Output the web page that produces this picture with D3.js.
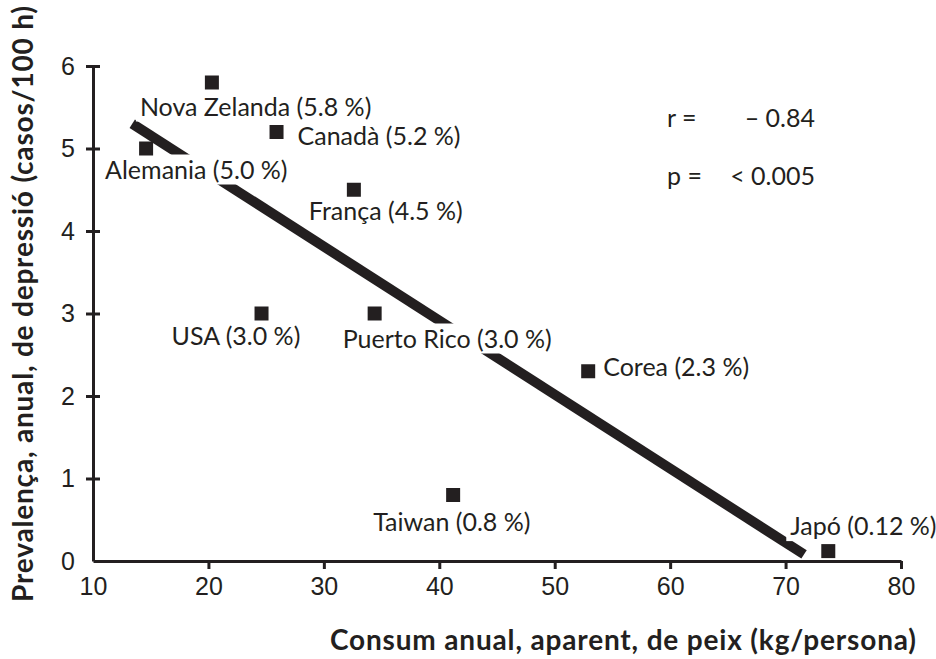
<!DOCTYPE html>
<html>
<head>
<meta charset="utf-8">
<script src="https://cdn.jsdelivr.net/npm/d3@7"></script>
<style>
  body { margin: 0; background: #fff; }
  svg { display: block; font-family: Lato, "Open Sans", sans-serif; }
</style>
</head>
<body>
<svg id="chart" width="936" height="659"></svg>
<script>
// fish consumption (kg/person/year) vs. annual depression prevalence
const countries = ['Nova Zelanda', 'Canadà', 'Alemania', 'França', 'USA', 'Puerto Rico', 'Corea', 'Taiwan', 'Japó'];
const fishKg = [20.3, 25.9, 14.6, 32.6, 24.6, 34.4, 52.9, 41.2, 73.7];
const prevalence = [5.8, 5.2, 5.0, 4.5, 3.0, 3.0, 2.3, 0.8, 0.12];
const pctLabels = ['5.8', '5.2', '5.0', '4.5', '3.0', '3.0', '2.3', '0.8', '0.12'];

// regression line end points
const fitX = [13.4, 71.6];
const fitY = [5.3, 0.08];

const xTicks = [10, 20, 30, 40, 50, 60, 70, 80];
const yTicks = [0, 1, 2, 3, 4, 5, 6];

const statNames = ['r =', 'p ='];
const statValues = ['\u2013 0.84', '< 0.005'];

// label offsets from each marker (px)
const labelOffset = [[-72, 33], [21, 13], [-41, 30], [-45, 30], [-90, 31], [-32, 34], [15, 5], [-80, 36], [-38, -16]];

const ink = '#231f20';
const svg = d3.select('#chart');

const x = d3.scaleLinear().domain([10, 80]).range([93, 901]);
const y = d3.scaleLinear().domain([0, 6]).range([561, 66]);

// x axis
const gx = svg.append('g')
  .attr('transform', `translate(0,${y(0)})`)
  .call(d3.axisBottom(x).tickValues(xTicks).tickSize(8).tickSizeOuter(0).tickPadding(8));
gx.select('.domain').attr('stroke', ink).attr('stroke-width', 3);
gx.selectAll('.tick line').attr('stroke', ink).attr('stroke-width', 3);
gx.selectAll('.tick text').attr('fill', ink).attr('font-size', 25).attr('dy', '0.71em');
gx.selectAll('.tick').filter(d => d === 10).select('line').remove();

// y axis
const gy = svg.append('g')
  .attr('transform', `translate(${x(10)},0)`)
  .call(d3.axisLeft(y).tickValues(yTicks).tickFormat(d3.format('d')).tickSize(6).tickSizeOuter(0));
gy.select('.domain').attr('stroke', ink).attr('stroke-width', 3);
gy.selectAll('.tick line').attr('stroke', ink).attr('stroke-width', 3).attr('x1', -7).attr('x2', 7);
gy.selectAll('.tick').filter(d => d === 0).select('line').remove();
gy.selectAll('.tick text').attr('fill', ink).attr('font-size', 25).attr('x', -18);

// regression line
svg.append('line')
  .attr('x1', x(fitX[0])).attr('y1', y(fitY[0]))
  .attr('x2', x(fitX[1])).attr('y2', y(fitY[1]))
  .attr('stroke', ink).attr('stroke-width', 10);

const pts = countries.map((c, i) => ({ c, x: fishKg[i], y: prevalence[i], p: pctLabels[i], off: labelOffset[i] }));

// labels, with a white backing that breaks the line where they cross it
const labels = svg.append('g').selectAll('g').data(pts).join('g')
  .attr('transform', d => `translate(${x(d.x) + d.off[0]},${y(d.y) + d.off[1]})`);
labels.append('text')
  .attr('font-size', 25)
  .attr('fill', ink)
  .text(d => `${d.c} (${d.p} %)`);
labels.each(function () {
  const g = d3.select(this);
  const b = g.select('text').node().getBBox();
  g.insert('rect', 'text')
    .attr('x', b.x - 4).attr('y', b.y + 1)
    .attr('width', b.width + 8).attr('height', b.height)
    .attr('fill', '#fff');
});

// markers on top
const size = 14;
svg.append('g').selectAll('rect').data(pts).join('rect')
  .attr('x', d => x(d.x) - size / 2)
  .attr('y', d => y(d.y) - size / 2)
  .attr('width', size).attr('height', size)
  .attr('fill', ink);

// statistics
const st = svg.append('g').attr('font-size', 25).attr('fill', ink);
st.selectAll('text.name').data(statNames).join('text')
  .attr('class', 'name')
  .attr('x', 667)
  .attr('y', (d, i) => 127 + i * 58)
  .text(d => d);
st.selectAll('text.val').data(statValues).join('text')
  .attr('class', 'val')
  .attr('x', 815)
  .attr('y', (d, i) => 127 + i * 58)
  .attr('text-anchor', 'end')
  .text(d => d);

// axis titles
svg.append('text')
  .attr('x', 623).attr('y', 650)
  .attr('text-anchor', 'middle')
  .attr('font-size', 28).attr('font-weight', 'bold')
  .attr('textLength', 586).attr('lengthAdjust', 'spacing')
  .attr('fill', ink)
  .text('Consum anual, aparent, de peix (kg/persona)');

svg.append('text')
  .attr('transform', 'translate(33,304) rotate(-90)')
  .attr('text-anchor', 'middle')
  .attr('font-size', 28).attr('font-weight', 'bold')
  .attr('textLength', 596).attr('lengthAdjust', 'spacing')
  .attr('fill', ink)
  .text('Prevalença, anual, de depressió (casos/100 h)');
</script>
</body>
</html>
